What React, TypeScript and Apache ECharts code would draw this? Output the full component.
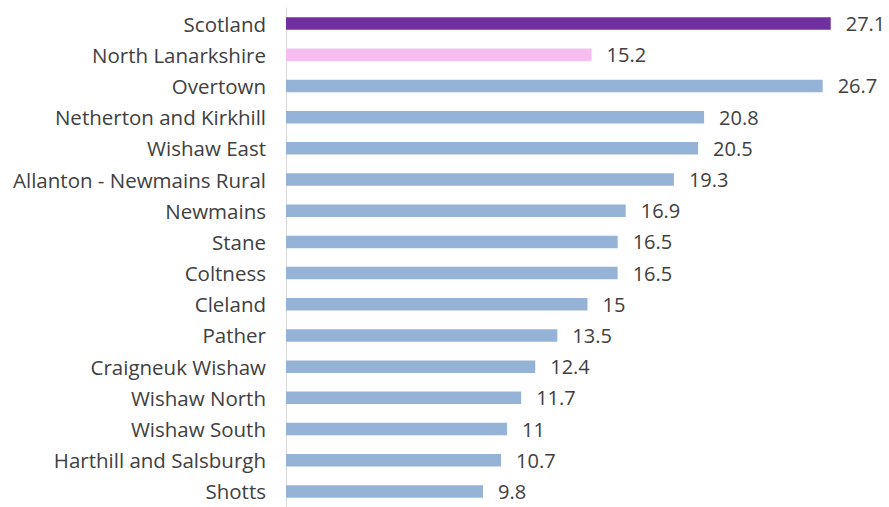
import React, { useEffect, useRef } from "react";
import * as echarts from "echarts";

const categories = [
  "Scotland",
  "North Lanarkshire",
  "Overtown",
  "Netherton and Kirkhill",
  "Wishaw East",
  "Allanton - Newmains Rural",
  "Newmains",
  "Stane",
  "Coltness",
  "Cleland",
  "Pather",
  "Craigneuk Wishaw",
  "Wishaw North",
  "Wishaw South",
  "Harthill and Salsburgh",
  "Shotts",
];

const values = [27.1, 15.2, 26.7, 20.8, 20.5, 19.3, 16.9, 16.5, 16.5, 15, 13.5, 12.4, 11.7, 11, 10.7, 9.8];

const barColors = [
  "#7030a0",
  "#f5bdf0",
  "#95b3d7", "#95b3d7", "#95b3d7", "#95b3d7", "#95b3d7", "#95b3d7", "#95b3d7",
  "#95b3d7", "#95b3d7", "#95b3d7", "#95b3d7", "#95b3d7", "#95b3d7", "#95b3d7",
];

const FONT = "'Open Sans', sans-serif";
const TEXT = "#404040";

export default function App() {
  const ref = useRef<HTMLDivElement>(null);
  useEffect(() => {
    if (!ref.current) return;
    const chart = echarts.init(ref.current, undefined, { renderer: "svg" });
    chart.setOption({
      animation: false,
      grid: { left: 286, right: 0, top: 8, bottom: -5, containLabel: false },
      xAxis: {
        type: "value",
        min: 0,
        max: 30,
        show: false,
      },
      yAxis: {
        type: "category",
        inverse: true,
        data: categories,
        axisLine: { show: true, lineStyle: { color: "#d9d9d9", width: 1 } },
        axisTick: { show: false },
        axisLabel: {
          color: TEXT,
          fontFamily: FONT,
          fontSize: 20.5,
          margin: 20,
        },
      },
      series: [
        {
          type: "bar",
          barWidth: 12.5,
          data: values.map((v, i) => ({ value: v, itemStyle: { color: barColors[i] } })),
          label: {
            show: true,
            position: "right",
            distance: 15,
            color: TEXT,
            fontFamily: FONT,
            fontSize: 20,
          },
        },
      ],
    });
    return () => chart.dispose();
  }, []);
  return (
    <div
      ref={ref}
      style={{ position: "fixed", left: 0, top: 0, width: 889, height: 507, background: "#fff" }}
    />
  );
}
